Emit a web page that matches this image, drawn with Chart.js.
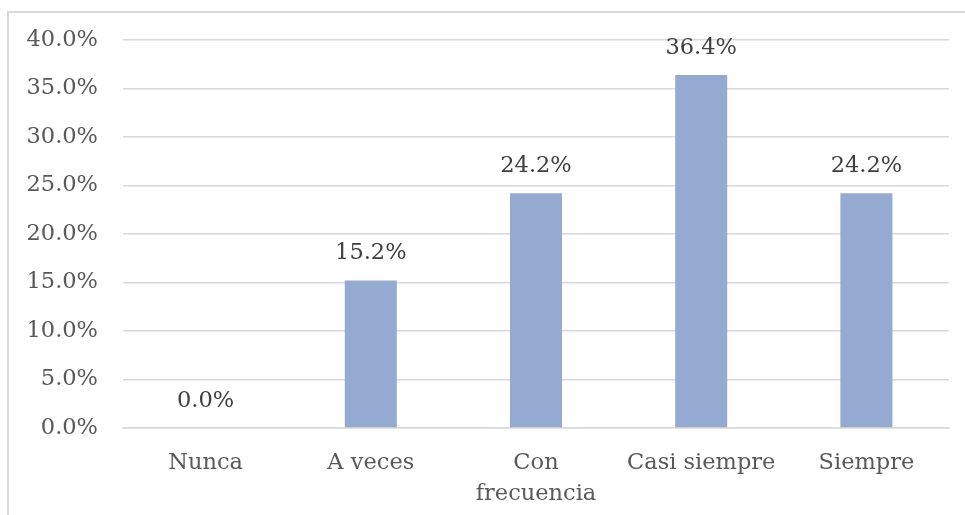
<!DOCTYPE html>
<html>
<head>
<meta charset="utf-8">
<script src="https://cdn.jsdelivr.net/npm/chart.js@4/dist/chart.umd.min.js"></script>
<style>
  html, body { margin: 0; padding: 0; background: #fff; }
  #wrap { position: relative; width: 965px; height: 515px; }
</style>
</head>
<body>
<div id="wrap"><canvas id="c" width="965" height="515"></canvas></div>
<script>
// Frecuencia de respuestas (porcentaje)
const categories = ['Nunca', 'A veces', ['Con', 'frecuencia'], 'Casi siempre', 'Siempre'];
const percentages = [0.0, 15.2, 24.2, 36.4, 24.2];
const yTicks = [0, 5, 10, 15, 20, 25, 30, 35, 40];

const FONT = "'DejaVu Serif', serif";
const TEXT = '#595959';
const GRID = '#d9d9d9';
const SIZE = 22.5;

// Outer frame of the chart object
const framePlugin = {
  id: 'frame',
  beforeDraw(chart) {
    const ctx = chart.ctx;
    ctx.save();
    ctx.strokeStyle = GRID;
    ctx.lineWidth = 2;
    ctx.strokeRect(8, 12, 1000, 1000);
    ctx.restore();
  }
};

// Value labels above each bar
const valueLabels = {
  id: 'valueLabels',
  afterDatasetsDraw(chart) {
    const ctx = chart.ctx;
    const meta = chart.getDatasetMeta(0);
    ctx.save();
    ctx.font = SIZE + 'px ' + FONT;
    ctx.fillStyle = '#404040';
    ctx.textAlign = 'center';
    ctx.textBaseline = 'middle';
    meta.data.forEach((bar, i) => {
      const v = chart.data.datasets[0].data[i];
      ctx.fillText(v.toFixed(1) + '%', bar.x, bar.y - 27);
    });
    ctx.restore();
  }
};

new Chart(document.getElementById('c'), {
  type: 'bar',
  data: {
    labels: categories,
    datasets: [{
      data: percentages,
      backgroundColor: '#95aad1',
      borderWidth: 0,
      barPercentage: 0.63,
      categoryPercentage: 0.5
    }]
  },
  options: {
    responsive: false,
    animation: false,
    devicePixelRatio: 1,
    layout: { padding: { top: 40, right: 16, bottom: 11, left: 0 } },
    plugins: {
      legend: { display: false },
      tooltip: { enabled: false }
    },
    scales: {
      x: {
        grid: { display: false, drawTicks: false },
        border: { display: true, color: GRID, width: 1.5 },
        ticks: {
          color: TEXT,
          font: { family: FONT, size: SIZE, lineHeight: 1.38 },
          padding: 20,
          maxRotation: 0,
          autoSkip: false
        },
        afterFit(scale) { scale.height = 76; }
      },
      y: {
        min: 0,
        max: 40,
        afterBuildTicks(scale) { scale.ticks = yTicks.map(v => ({ value: v })); },
        grid: { color: GRID, lineWidth: 1.5, drawTicks: false },
        border: { display: false },
        ticks: {
          color: TEXT,
          font: { family: FONT, size: SIZE },
          padding: 25,
          callback: v => v.toFixed(1) + '%'
        },
        afterFit(scale) { scale.width = 123; }
      }
    }
  },
  plugins: [framePlugin, valueLabels]
});
</script>
</body>
</html>
